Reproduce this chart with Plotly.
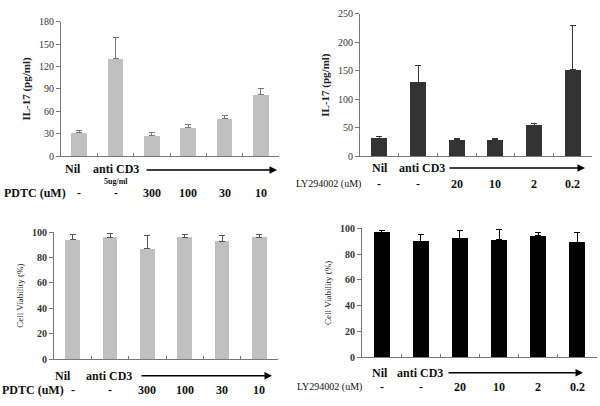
import plotly.graph_objects as go

categories = ["Nil", "anti CD3", "c3", "c4", "c5", "c6"]

il17_pdtc = [32, 130, 28, 38, 51, 82]
il17_pdtc_err = [3, 29, 4, 4, 3, 9]
il17_ly = [32, 130, 30, 30, 55, 152]
il17_ly_err = [3, 30, 2, 2, 3, 77]
via_pdtc = [94, 96, 87, 96, 93, 96]
via_pdtc_err = [4, 3, 10, 2, 4, 2]
via_ly = [97, 90, 92, 91, 94, 89]
via_ly_err = [1.5, 5, 6, 8, 3, 8]

pdtc_doses = ["-", "-", "300", "100", "30", "10"]
ly_doses = ["-", "-", "20", "10", "2", "0.2"]

SERIF = "Liberation Serif, Times New Roman, serif"
W, H = 600, 406

fig = go.Figure()

panels = [
    dict(v=il17_pdtc, e=il17_pdtc_err, c="#c0c0c0", ec="#777777", xd=(61, 279), yd=(155, 16), ymax=180, dt=30, bold=False, title="<b>IL-17 (pg/ml)</b>", tsize=11, width=0.44),
    dict(v=il17_ly, e=il17_ly_err, c="#333333", ec="#333333", xd=(360, 592), yd=(155, 8), ymax=250, dt=50, bold=False, title="<b>IL-17 (pg/ml)</b>", tsize=11, width=0.42),
    dict(v=via_pdtc, e=via_pdtc_err, c="#c0c0c0", ec="#555555", xd=(54, 278), yd=(364, 233), ymax=100, dt=20, bold=True, title="Cell Viability (%)", tsize=9, width=0.4),
    dict(v=via_ly, e=via_ly_err, c="#000000", ec="#000000", xd=(362, 597), yd=(362, 229), ymax=100, dt=20, bold=True, title="Cell Viability (%)", tsize=9, width=0.41),
]

for i, p in enumerate(panels):
    n = "" if i == 0 else str(i + 1)
    fig.add_trace(go.Bar(
        x=list(range(len(categories))), y=p["v"], width=p["width"],
        marker=dict(color=p["c"], line=dict(width=0)),
        error_y=dict(type="data", symmetric=False, array=p["e"], arrayminus=[0] * 6,
                     color=p["ec"], thickness=1, width=3),
        xaxis="x" + n, yaxis="y" + n, showlegend=False,
    ))
    tickfont = dict(family=SERIF, size=10, color="#333333")
    tickvals = list(range(0, p["ymax"] + 1, p["dt"]))
    ticktext = [("<b>%d</b>" % t) if p["bold"] else str(t) for t in tickvals]
    fig.update_layout(**{
        "xaxis" + n: dict(domain=[p["xd"][0] / W, p["xd"][1] / W], range=[-0.5, 5.5],
                          showline=True, linecolor="#777777", linewidth=1,
                          tickvals=[-0.5, 0.5, 1.5, 2.5, 3.5, 4.5, 5.5], ticks="inside",
                          ticklen=3, tickcolor="#777777", showticklabels=False,
                          showgrid=False, zeroline=False, anchor="y" + n, fixedrange=True),
        "yaxis" + n: dict(domain=[1 - p["yd"][0] / H, 1 - p["yd"][1] / H], range=[0, p["ymax"]],
                          showline=True, linecolor="#777777", linewidth=1,
                          tickvals=tickvals, ticktext=ticktext, ticks="outside", ticklen=4,
                          tickcolor="#777777", tickfont=tickfont, showgrid=False, zeroline=False,
                          anchor="x" + n, fixedrange=True,
                          title=dict(text=p["title"], font=dict(family=SERIF, size=p["tsize"], color="#222222"), standoff=6)),
    })

ann = []

def txt(x, y, s, size=12, bold=True, xref="paper", xanchor="center", color="#111111"):
    ann.append(dict(x=x, y=y, xref=xref, yref="paper", text=("<b>%s</b>" % s) if bold else s,
                    showarrow=False, xanchor=xanchor, yanchor="middle",
                    font=dict(family=SERIF, size=size, color=color)))

def arrow(x0, x1, y):
    ann.append(dict(x=x1 / W, y=1 - y / H, xref="paper", yref="paper", ax=x0 - x1, ay=0,
                    axref="pixel", ayref="pixel", text="", showarrow=True, arrowhead=2,
                    arrowsize=1, arrowwidth=1.5, arrowcolor="#000000"))

# Panel 1 labels
txt(73 / W, 1 - 168 / H, "Nil")
txt(116 / W, 1 - 168 / H, "anti CD3")
txt(116 / W, 1 - 181 / H, "5ug/ml", size=8)
arrow(145, 277, 169)
txt(35 / W, 1 - 193 / H, "PDTC (uM)")
for i, d in enumerate(pdtc_doses):
    txt(i, 1 - 193 / H, d, xref="x")

# Panel 2 labels
txt(380 / W, 1 - 167 / H, "Nil")
txt(422 / W, 1 - 167 / H, "anti CD3")
arrow(448, 585, 167)
txt(328 / W, 1 - 183 / H, "LY294002 (uM)", size=10, bold=False)
for i, d in enumerate(ly_doses):
    txt(i, 1 - 183 / H, d, xref="x2")

# Panel 3 labels
txt(63 / W, 1 - 381 / H, "Nil")
txt(109 / W, 1 - 381 / H, "anti CD3")
arrow(140, 272, 381)
txt(33 / W, 1 - 396 / H, "PDTC (uM)")
for i, d in enumerate(pdtc_doses):
    txt(i, 1 - 396 / H, d, xref="x3")

# Panel 4 labels
txt(380 / W, 1 - 378 / H, "Nil")
txt(420 / W, 1 - 378 / H, "anti CD3")
arrow(447, 583, 378)
txt(329 / W, 1 - 393 / H, "LY294002 (uM)", size=10, bold=False)
for i, d in enumerate(ly_doses):
    txt(i, 1 - 393 / H, d, xref="x4")

fig.update_layout(
    width=W, height=H, margin=dict(l=0, r=0, t=0, b=0),
    paper_bgcolor="white", plot_bgcolor="white",
    annotations=ann, bargap=0,
)

fig.write_html("out.html", config={"displayModeBar": False},
               post_script="document.body.style.margin='0';document.body.style.padding='0';")
